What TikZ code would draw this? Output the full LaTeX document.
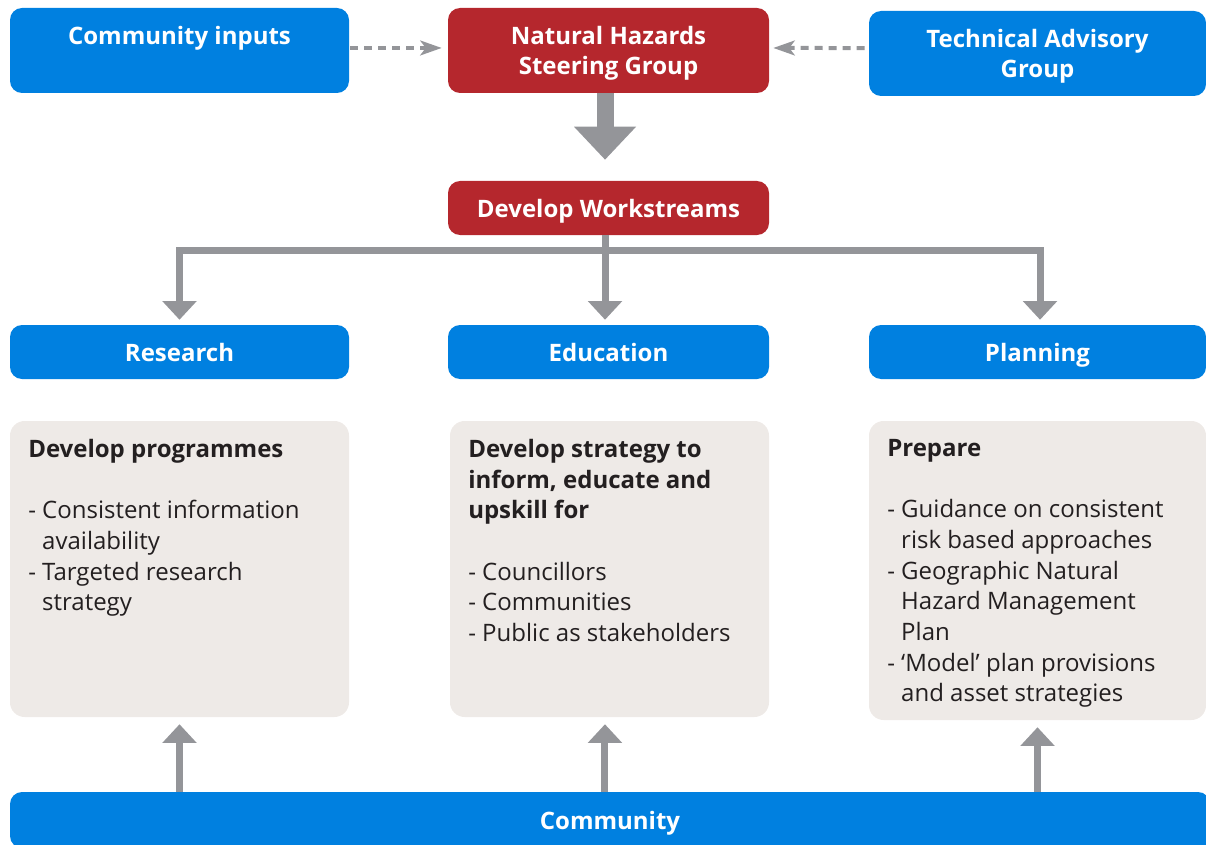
\documentclass[tikz,border=0pt]{standalone}
\usepackage{fontspec}
\setmainfont{Open Sans}
\usetikzlibrary{arrows.meta}
\definecolor{boxblue}{HTML}{0080E0}
\definecolor{boxred}{HTML}{B5272D}
\definecolor{boxgrey}{HTML}{EEEAE7}
\definecolor{arrowgrey}{HTML}{949599}
\definecolor{bodytext}{HTML}{231F20}
\newcommand\cont{\phantom{- }}

\begin{document}
\begin{tikzpicture}
  [x=0.75pt, y=-0.75pt,
    every node/.style={inner sep=0pt, font=\fontsize{18}{23}\selectfont},
    head/.style={rounded corners=9pt, text=white, font=\fontsize{18}{23}\selectfont\bfseries, align=center, text depth=0pt},
    bluebox/.style={head, fill=boxblue},
    redbox/.style={head, fill=boxred},
    greybox/.style={rounded corners=11pt, fill=boxgrey},
    body/.style={anchor=north west, align=left, text=bodytext},
    dasharrow/.style={draw=arrowgrey, line width=3pt, dash pattern=on 6pt off 4.5pt, -{Stealth[width=11pt,length=16pt,inset=4pt]}},
    bigarrow/.style={draw=arrowgrey, line width=12.75pt, -{Triangle[width=45pt,length=24.75pt]}},
    link/.style={draw=arrowgrey, line width=5.25pt, -{Triangle[width=25pt,length=14pt]}},
  ]
  \useasboundingbox (0,0) rectangle (1206,845);

  \node[bluebox, minimum width=254.25pt, minimum height=63.75pt] (comin) at (179.5,50.5) {Community inputs\\\mbox{}};
  \node[redbox, minimum width=240.75pt, minimum height=63.75pt] (nhsg) at (608.5,50.5) {Natural Hazards\\Steering Group};
  \node[bluebox, minimum width=252.75pt, minimum height=63.75pt] (tag) at (1037.5,53.5) {Technical Advisory\\Group};

  \node[redbox, minimum width=240.75pt, minimum height=40.5pt] (dw) at (608.5,208) {Develop Workstreams};

  \node[bluebox, minimum width=254.25pt, minimum height=40.5pt] (res) at (179.5,352) {Research};
  \node[bluebox, minimum width=240.75pt, minimum height=40.5pt] (edu) at (608.5,352) {Education};
  \node[bluebox, minimum width=252.75pt, minimum height=40.5pt] (pla) at (1037.5,352) {Planning};

  \node[greybox, minimum width=254.25pt, minimum height=222pt] (resbox) at (179.5,569) {};
  \node[greybox, minimum width=239.25pt, minimum height=222pt] (edubox) at (609.5,569) {};
  \node[greybox, minimum width=252.75pt, minimum height=224.25pt] (plabox) at (1037.5,570.5) {};

  \node[body] (restext) at (28,439) {\textbf{Develop programmes}\\[23pt]
    - Consistent information\\\cont availability\\
    - Targeted research\\\cont strategy};
  \node[body] (edutext) at (468,439) {\textbf{Develop strategy to}\\\textbf{inform, educate and}\\\textbf{upskill for}\\[23pt]
    - Councillors\\- Communities\\- Public as stakeholders};
  \node[body] (platext) at (887,439) {\textbf{Prepare}\\[23pt]
    - Guidance on consistent\\\cont risk based approaches\\
    - Geographic Natural\\\cont Hazard Management\\\cont Plan\\
    - `Model' plan provisions\\\cont and asset strategies};

  \node[bluebox, minimum width=900pt, minimum height=42pt] (comm) at (610,820) {Community};

  \draw[dasharrow, shorten <=0.75pt, shorten >=4.5pt] ([yshift=1.9pt]comin.east) -- ([yshift=1.9pt]nhsg.west);
  \draw[dasharrow, shorten <=3pt, shorten >=3pt] ([yshift=4.1pt]tag.west) -- ([yshift=1.9pt]nhsg.east);
  \draw[bigarrow, shorten >=15.75pt] ([xshift=-2.6pt]nhsg.south) -- ([xshift=-2.6pt]dw.north);

  \draw[link, shorten >=3.75pt] ([xshift=-2.6pt]dw.south) -- ++(0,15) -| (res.north);
  \draw[link, shorten >=3.75pt] ([xshift=-2.6pt]dw.south) -- ([xshift=-2.6pt]edu.north);
  \draw[link, shorten >=3.75pt] ([xshift=-2.6pt]dw.south) -- ++(0,15) -| ([xshift=1.9pt]pla.north);

  \draw[link, shorten >=5.25pt] (comm.north -| resbox.south) -- (resbox.south);
  \draw[link, shorten >=5.25pt] ([xshift=-3.4pt]comm.north -| edubox.south) -- ([xshift=-3.4pt]edubox.south);
  \draw[link, shorten >=5.25pt] (comm.north -| plabox.south) -- (plabox.south);
\end{tikzpicture}
\end{document}
